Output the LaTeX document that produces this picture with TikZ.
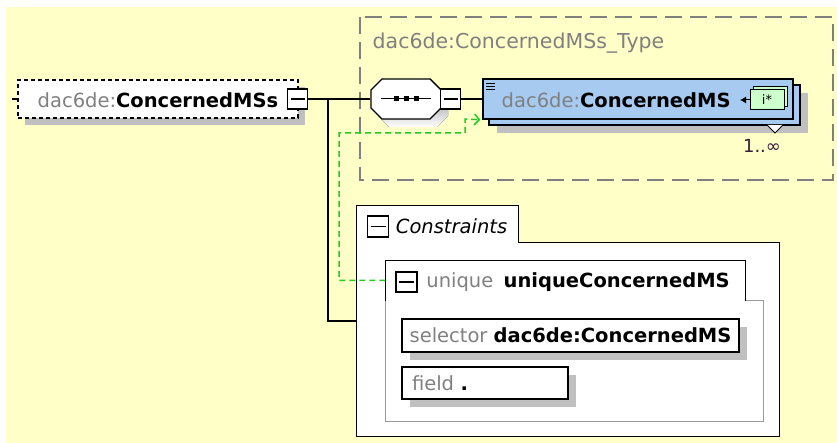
\documentclass[tikz,border=0pt]{standalone}
\usepackage{fontspec}
\setmainfont{DejaVu Sans}
\usetikzlibrary{positioning, shadows, arrows.meta}
\definecolor{bgyellow}{HTML}{FFFFC8}
\definecolor{xgray}{HTML}{808080}
\definecolor{shade}{HTML}{C0C0C0}
\definecolor{elblue}{HTML}{A6CAF0}
\definecolor{idgreen}{HTML}{CCFFCC}
\definecolor{refgreen}{HTML}{22CC22}
\definecolor{occ}{HTML}{3A1A3A}
\newcommand{\pre}[1]{\textcolor{xgray}{#1}}
\newcommand{\seqshape}{(382,79) -- (430,79) -- (441,90) -- (441,108) -- (430,119) -- (382,119) -- (371,108) -- (371,90) -- cycle}

\begin{document}
\begin{tikzpicture}[x=1pt, y=-1pt, line width=1.4pt, font=\fontsize{19.5}{22}\selectfont,
	lbl/.style={inner sep=0, anchor=west},
	shadowed/.style={drop shadow={shadow xshift=#1, shadow yshift=-#1, fill=shade, opacity=1}},
	elem/.style={draw, fill=white, inner sep=0},
	minus/.style={draw, fill=white, inner sep=0, minimum width=20pt, minimum height=20pt, line width=1.4pt,
		path picture={\draw[line width=1.6pt] ([xshift=3pt]path picture bounding box.west) -- ([xshift=-3pt]path picture bounding box.east);}},
	idbox/.style={draw, fill=idgreen, inner sep=0, minimum width=34pt, minimum height=20pt, line width=1pt},
	keyref/.style={refgreen, line width=1.5pt, dash pattern=on 6pt off 4pt, -{Straight Barb[length=5pt, width=11pt]}}]
	\useasboundingbox (0,0) rectangle (837,443);
	\fill[bgyellow] (6,7) rectangle (837,443);
	\draw[xgray, line width=1.5pt, dash pattern=on 17pt off 8pt] (360,17) rectangle (833,180);
	\node[lbl, text=xgray, font=\fontsize{20.5}{22}\selectfont] (tname) at (372,43) {dac6de:ConcernedMSs\_Type};
	\node[elem, shadowed=7pt, dash pattern=on 4pt off 3pt, minimum width=280pt, minimum height=38pt] (root) at (158,99) {};
	\node[lbl] (rootname) at (37,100) {\pre{dac6de:}\textbf{ConcernedMSs}};
	\node[minus] (m1) at (297.5,99) {};
	\coordinate (tick) at (12,99);
	\coordinate (fork) at (328,99);
	\draw (tick) -- (root.west);
	\fill[shade, shift={(7,8)}] \seqshape;
	\draw[fill=white] \seqshape;
	\node[minimum width=70pt, minimum height=40pt, inner sep=0] (seq) at (406,99) {};
	\draw[line width=1pt] (381,99) -- (431,99);
	\foreach \x in {396,406,416} \fill (\x,99) +(-2.5,-2.5) rectangle +(2.5,2.5);
	\node[minus] (m2) at (450.5,99) {};
	\node[elem, fill=elblue, shadowed=8pt, minimum width=311pt, minimum height=40pt] (msback) at (644.5,105) {};
	\node[elem, fill=elblue, minimum width=310pt, minimum height=40pt] (ms) at (638,99) {};
	\foreach \y in {83,86,89} \draw[line width=0.8pt] (486,\y) -- (495,\y);
	\node[lbl] (msname) at (501,100) {\pre{dac6de:}\textbf{ConcernedMS}};
	\node[idbox] (idback) at (770,97) {};
	\node[idbox, font=\fontsize{13}{13}\selectfont] (id) at (767,100) {i*};
	\coordinate (idtip) at (740,100);
	\draw[line width=1pt, -{Latex[length=6pt, width=7pt]}] (id.west) -- (idtip);
	\draw[fill=white, line width=0.8pt] (767,125) -- (775,133) -- (783,125);
	\node[text=occ, font=\fontsize{18}{18}\selectfont] (card) at (762,146) {1..∞};
	\draw (m1.east) -- (seq.west);
	\draw (m2.east) -- (ms.west);
	\node[minimum width=422pt, minimum height=230pt, inner sep=0] (cons) at (568,321) {};
	\draw (fork) |- (cons.west);
	\draw[fill=white] (cons.north west) -- ++(162,0) |- ([yshift=-37pt]cons.north east) |- (cons.south west) -- cycle;
	\node[minus, minimum width=21pt, minimum height=21pt] (m3) at (378,226.5) {};
	\node[lbl, right=6pt of m3] (ctitle) {\itshape Constraints};
	\node[minimum width=359pt, minimum height=39pt, inner sep=0] (uq) at (565.5,280.5) {};
	\draw[xgray!80, line width=1.2pt] (uq.south east) -- ++(18,0) -- ++(0,121) -| (uq.south west);
	\draw (uq.south west) |- (uq.north east) -- (uq.south east);
	\node[minus, minimum width=21pt] (m4) at (406.5,282) {};
	\node[lbl, right=8pt of m4, text=xgray] (ukw) {unique};
	\node[lbl, right=9pt of ukw] (uname) {\textbf{uniqueConcernedMS}};
	\node[elem, shadowed=8pt, minimum width=337pt, minimum height=33pt] (sel) at (570.5,335.5) {\pre{selector} \textbf{dac6de:ConcernedMS}};
	\node[elem, shadowed=8pt, minimum width=166pt, minimum height=32pt, text width=146pt, inner xsep=10pt, align=left] (fld) at (485,383) {\pre{field} \textbf{.}};
	\draw[keyref] (uq.west) -| (339,133) -| (465,119) -- ([xshift=-2pt]ms.south west);
\end{tikzpicture}
\end{document}
